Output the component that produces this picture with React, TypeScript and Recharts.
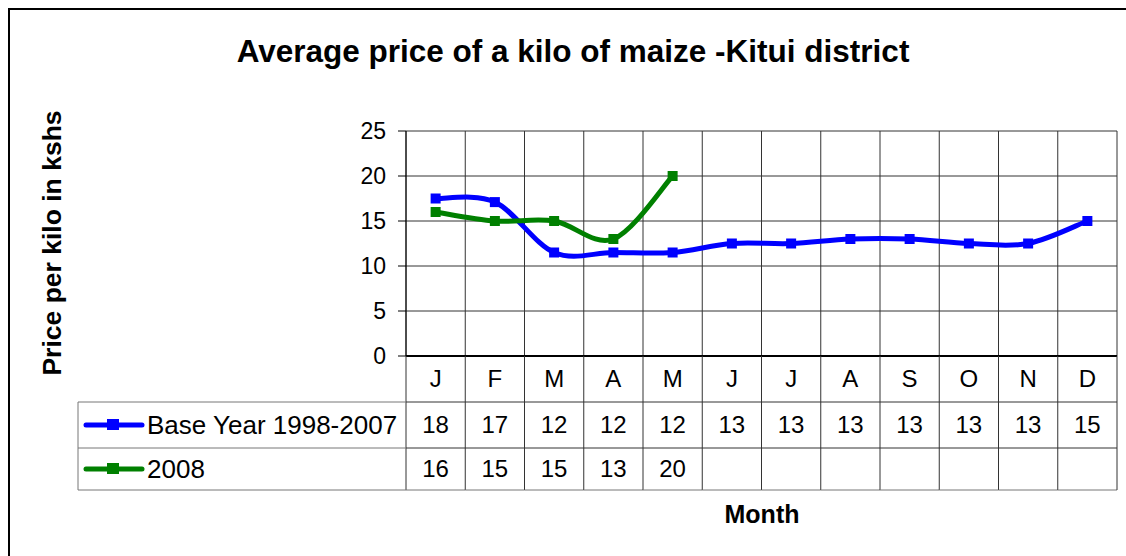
import React from 'react';
import { LineChart, Line, XAxis, YAxis, CartesianGrid } from 'recharts';

const MONTHS = ['J', 'F', 'M', 'A', 'M', 'J', 'J', 'A', 'S', 'O', 'N', 'D'];
const BASE_YEAR = [17.5, 17.1, 11.5, 11.5, 11.5, 12.5, 12.5, 13, 13, 12.5, 12.5, 15];
const YEAR_2008 = [16, 15, 15, 13, 20, null, null, null, null, null, null, null];
const SERIES_NAMES = ['Base Year 1998-2007', '2008'];
const Y_TICKS = [0, 5, 10, 15, 20, 25];
const COLUMN_EDGES = [...MONTHS.map((_, i) => i), MONTHS.length];

const data = MONTHS.map((m, i) => ({
  x: i + 0.5,
  month: m,
  base: BASE_YEAR[i],
  y2008: YEAR_2008[i],
}));

const W = 1126;
const H = 556;
const PLOT_LEFT = 406;
const PLOT_RIGHT = 1117;
const PLOT_TOP = 131;
const PLOT_BOTTOM = 356;
const Y_AXIS_W = 60;
const ROW_H = [46, 46, 42];
const COL_W = (PLOT_RIGHT - PLOT_LEFT) / MONTHS.length;
const LEGEND_LEFT = 78;
const FONT = "'Liberation Sans', Arial, sans-serif";
const GRID = '#333';
const BLUE = '#0000ff';
const GREEN = '#008000';

// Excel-style smoothed line (bezier, 1/6 of neighbour distance)
const excelCurve = (context: any) => {
  let pts: [number, number][] = [];
  return {
    areaStart() {},
    areaEnd() {},
    lineStart() {
      pts = [];
    },
    point(x: number, y: number) {
      pts.push([+x, +y]);
    },
    lineEnd() {
      if (!pts.length) return;
      context.moveTo(pts[0][0], pts[0][1]);
      for (let i = 0; i < pts.length - 1; i++) {
        const p0 = pts[Math.max(i - 1, 0)];
        const p1 = pts[i];
        const p2 = pts[i + 1];
        const p3 = pts[Math.min(i + 2, pts.length - 1)];
        context.bezierCurveTo(
          p1[0] + (p2[0] - p0[0]) / 6,
          p1[1] + (p2[1] - p0[1]) / 6,
          p2[0] - (p3[0] - p1[0]) / 6,
          p2[1] - (p3[1] - p1[1]) / 6,
          p2[0],
          p2[1]
        );
      }
    },
  };
};

const squareDot = (color: string) => (props: any) => {
  const { cx, cy, index } = props;
  if (cx == null || cy == null) return <g key={`e-${index}`} />;
  return <rect key={`d-${index}`} x={cx - 5} y={cy - 5} width={10} height={10} fill={color} />;
};

const MonthTick = (props: any) => {
  const { x, y, payload } = props;
  const i = payload.value;
  return (
    <g>
      <line x1={x} x2={x} y1={y} y2={y + ROW_H[0]} stroke={GRID} />
      {i < MONTHS.length && (
        <text x={x + COL_W / 2} y={y + ROW_H[0] / 2} dy="0.35em" textAnchor="middle" fontSize={24} fontFamily={FONT} fill="#000">
          {MONTHS[i]}
        </text>
      )}
    </g>
  );
};

const makeRowTick = (values: (number | null)[], row: number, color: string, name: string, last: boolean) => (props: any) => {
  const { x, y, payload } = props;
  const i = payload.value;
  const h = ROW_H[row];
  const v = values[i];
  return (
    <g>
      <line x1={x} x2={x} y1={y} y2={y + h} stroke={GRID} />
      {last && i < MONTHS.length && <line x1={x} x2={x + COL_W} y1={y + h} y2={y + h} stroke="#777" />}
      {i < MONTHS.length && v != null && (
        <text x={x + COL_W / 2} y={y + h / 2} dy="0.35em" textAnchor="middle" fontSize={24} fontFamily={FONT} fill="#000">
          {Math.round(v)}
        </text>
      )}
      {i === 0 && (
        <g>
          <line x1={LEGEND_LEFT} x2={LEGEND_LEFT} y1={y} y2={y + h} stroke="#777" />
          <line x1={LEGEND_LEFT} x2={x} y1={y} y2={y} stroke="#777" />
          {last && <line x1={LEGEND_LEFT} x2={x} y1={y + h} y2={y + h} stroke="#777" />}
          <line x1={LEGEND_LEFT + 8} x2={LEGEND_LEFT + 64} y1={y + h / 2} y2={y + h / 2} stroke={color} strokeWidth={5} strokeLinecap="round" />
          <rect x={LEGEND_LEFT + 29} y={y + h / 2 - 6} width={12} height={11} fill={color} />
          <text x={LEGEND_LEFT + 69} y={y + h / 2} dy="0.35em" fontSize={26} fontFamily={FONT} fill="#000">
            {name}
          </text>
        </g>
      )}
    </g>
  );
};

const BaseTick = makeRowTick(BASE_YEAR, 1, BLUE, SERIES_NAMES[0], false);
const Tick2008 = makeRowTick(YEAR_2008, 2, GREEN, SERIES_NAMES[1], true);

const App = () => {
  const bottom = H - PLOT_BOTTOM - ROW_H[0] - ROW_H[1] - ROW_H[2];
  return (
    <div style={{ position: 'absolute', left: 0, top: 0, width: W, height: H, overflow: 'hidden', background: '#fff' }}>
      <div style={{ position: 'absolute', left: 8, top: 8, width: W + 40, height: H + 40, border: '2px solid #000' }} />
      <div style={{ position: 'absolute', left: 0, top: 0 }}>
        <LineChart
          width={W}
          height={H}
          data={data}
          margin={{ top: PLOT_TOP, right: W - PLOT_RIGHT, left: PLOT_LEFT - Y_AXIS_W, bottom }}
        >
          <CartesianGrid stroke={GRID} />
          <XAxis
            dataKey="x"
            type="number"
            domain={[0, MONTHS.length]}
            ticks={COLUMN_EDGES}
            interval={0}
            height={ROW_H[0]}
            tickSize={0}
            tickMargin={0}
            tickLine={false}
            axisLine={{ stroke: '#000', strokeWidth: 2 }}
            tick={<MonthTick />}
          />
          <XAxis
            xAxisId="base"
            dataKey="x"
            type="number"
            domain={[0, MONTHS.length]}
            ticks={COLUMN_EDGES}
            interval={0}
            height={ROW_H[1]}
            tickSize={0}
            tickMargin={0}
            tickLine={false}
            axisLine={{ stroke: GRID }}
            tick={<BaseTick />}
          />
          <XAxis
            xAxisId="y2008"
            dataKey="x"
            type="number"
            domain={[0, MONTHS.length]}
            ticks={COLUMN_EDGES}
            interval={0}
            height={ROW_H[2]}
            tickSize={0}
            tickMargin={0}
            tickLine={false}
            axisLine={{ stroke: GRID }}
            tick={<Tick2008 />}
          />
          <YAxis
            width={Y_AXIS_W}
            domain={[0, 25]}
            ticks={Y_TICKS}
            interval={0}
            tickSize={8}
            tickMargin={12}
            tickLine={{ stroke: '#000' }}
            axisLine={{ stroke: '#000' }}
            tick={{ fill: '#000', fontSize: 23, fontFamily: FONT }}
          />
          <Line
            dataKey="base"
            name={SERIES_NAMES[0]}
            type={excelCurve as any}
            stroke={BLUE}
            strokeWidth={5}
            dot={squareDot(BLUE)}
            activeDot={false}
            isAnimationActive={false}
          />
          <Line
            dataKey="y2008"
            name={SERIES_NAMES[1]}
            type={excelCurve as any}
            stroke={GREEN}
            strokeWidth={5}
            dot={squareDot(GREEN)}
            activeDot={false}
            isAnimationActive={false}
          />
        </LineChart>
      </div>
      <svg width={W} height={H} style={{ position: 'absolute', left: 0, top: 0, pointerEvents: 'none' }}>
        <text x={573} y={62} textAnchor="middle" fontSize={31.5} fontWeight="bold" fontFamily={FONT} fill="#000">
          Average price of a kilo of maize -Kitui district
        </text>
        <text x={52} y={243} dy="0.35em" textAnchor="middle" fontSize={26.5} fontWeight="bold" fontFamily={FONT} fill="#000" transform="rotate(-90 52 243)">
          Price per kilo in kshs
        </text>
        <text x={762} y={523} textAnchor="middle" fontSize={25} fontWeight="bold" fontFamily={FONT} fill="#000">
          Month
        </text>
      </svg>
    </div>
  );
};

export default App;
